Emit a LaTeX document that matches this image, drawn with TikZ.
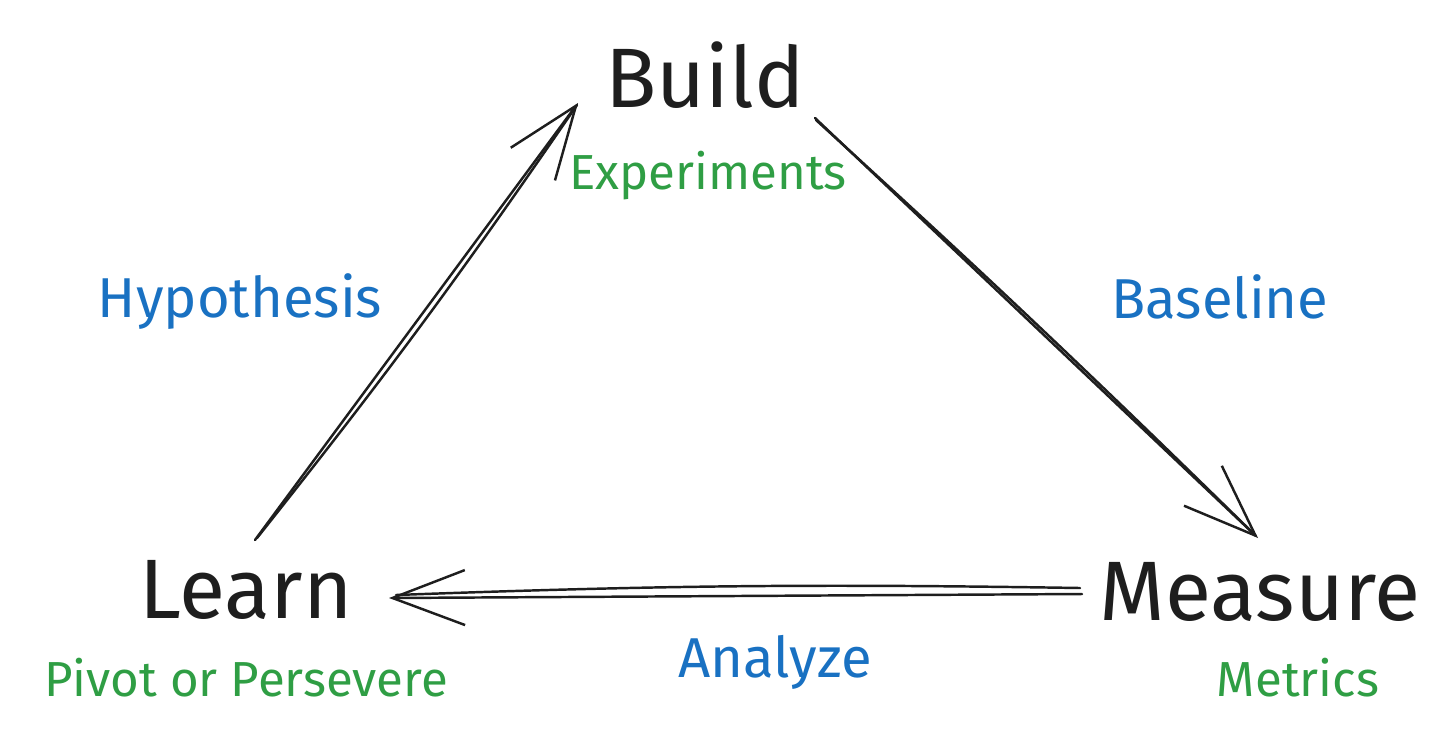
\documentclass[tikz,border=0pt]{standalone}
\usepackage{fontspec}
\setmainfont{Fira Sans}
\usetikzlibrary{arrows.meta,calc}
\definecolor{inkblack}{HTML}{1E1E1E}
\definecolor{inkblue}{HTML}{1971C2}
\definecolor{inkgreen}{HTML}{2F9E44}
\tikzset{
  stage/.style={text=inkblack,inner sep=0pt,font=\fontsize{48}{54}\selectfont},
  note/.style={text=inkgreen,inner sep=0pt,font=\fontsize{28}{32}\selectfont},
  label/.style={text=inkblue,inner sep=0pt,font=\fontsize{32}{36}\selectfont},
  stroke/.style={draw=inkblack,line width=1.4pt,line cap=round},
  arr/.style={stroke,-{Straight Barb[length=1.45cm,width=1.1cm,line width=1.4pt]}}
}
\begin{document}
\begin{tikzpicture}[x=0.02cm,y=-0.02cm]
        \useasboundingbox (0,0) rectangle (1456,738);

        % stages
        \node[stage] (build) at (705,75) {Build};
        \node[stage] (measure) at (1260,592) {Measure};
        \node[stage] (learn) at (246,590) {Learn};

        \node[note] (experiments) at (708,176) {Experiments};
        \node[note] (metrics) at (1298,678) {Metrics};
        \node[note] (pivot) at (246,678) {Pivot or Persevere};

        \node[label] (hypothesis) at (240,302) {Hypothesis};
        \node[label] (baseline) at (1220,297) {Baseline};
        \node[label] (analyze) at (775,662) {Analyze};

        % learn -> build
        \draw[arr] ($(learn)+(9,-50)$) -- ($(build)+(-127,28)$);
        \draw[stroke] ($(learn)+(11,-52)$) to[bend right=2] ($(build)+(-128,30)$);

        % build -> measure
        \draw[arr] ($(build)+(110,43)$) -- ($(measure)+(-2,-54)$);
        \draw[stroke] ($(build)+(111,45)$) to[bend left=1] ($(measure)+(-4,-56)$);

        % measure -> learn
        \draw[arr] ($(measure)+(-178,2)$) -- ($(learn)+(143,8)$);
        \draw[stroke] ($(measure)+(-180,-4)$) to[bend right=1.5] ($(learn)+(150,5)$);

    \end{tikzpicture}
\end{document}
